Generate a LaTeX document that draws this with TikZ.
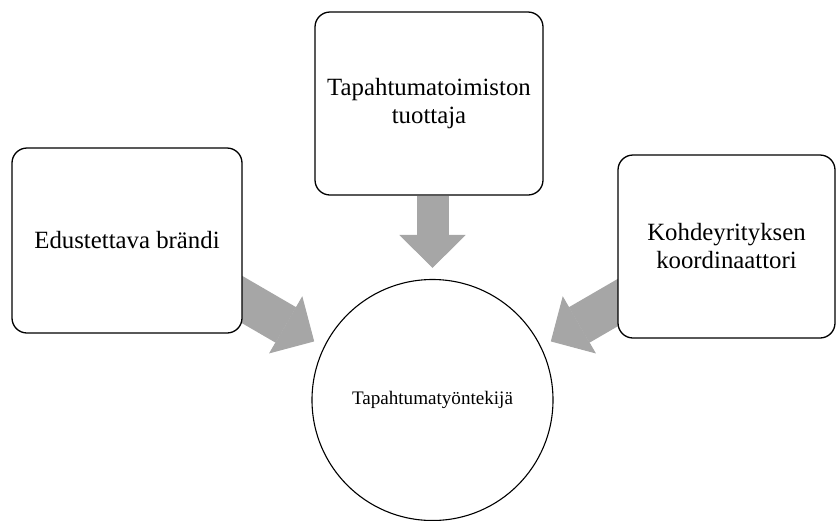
\documentclass[tikz,border=0pt]{standalone}
\usepackage{fontspec}
\setmainfont{Liberation Serif}
\usetikzlibrary{arrows.meta, backgrounds}
\definecolor{arrowgray}{RGB}{166,166,166}

\begin{document}
\begin{tikzpicture}[x=1pt, y=-1pt]

        % Setup the styles for the boxes, the circle and the arrows
        \tikzset{box style/.style={draw, fill=white,
                                   rounded corners=15pt,
                                   line width=1.3pt,
                                   align=center,
                                   font=\fontsize{24.8}{28}\selectfont
                                   },
                 worker style/.style={draw, fill=white, circle,
                                   minimum size=241pt,
                                   inner sep=0pt,
                                   line width=1.1pt,
                                   font=\fontsize{19.1}{23}\selectfont
                                   },
                 big arrow/.style={arrowgray,
                                   line width=#1,
                                   -{Triangle[width=66pt, length=33pt, line width=1pt]}
                                   }}

        \useasboundingbox (0,0) rectangle (837,520);

        % Draw the boxes and the circle
        \node[box style, minimum width=230pt, minimum height=185pt] at (127, 240.5) (Brand)    {Edustettava brändi};
        \node[box style, minimum width=228pt, minimum height=183pt] at (429, 103.5) (Producer) {Tapahtumatoimiston\\tuottaja};
        \node[box style, minimum width=217pt, minimum height=183pt] at (726.5, 246.5) (Coordinator) {Kohdeyrityksen\\koordinaattori};
        \node[worker style] at (432.5, 400) (Worker) {Tapahtumatyöntekijä};

        % Connect them with arrows, behind the boxes
        \begin{scope}[on background layer]
            \draw[big arrow=32pt, shorten >=11pt] (Producer.south -| Worker.north) -- (Worker.north);
            \draw[big arrow=41pt, shorten >=11pt] ([xshift=-35pt, yshift=-39pt]Brand.east) -- (Worker.154);
            \draw[big arrow=41pt, shorten >=11pt] ([xshift=35pt, yshift=-36pt]Coordinator.west) -- (Worker.26);
        \end{scope}
\end{tikzpicture}
\end{document}
